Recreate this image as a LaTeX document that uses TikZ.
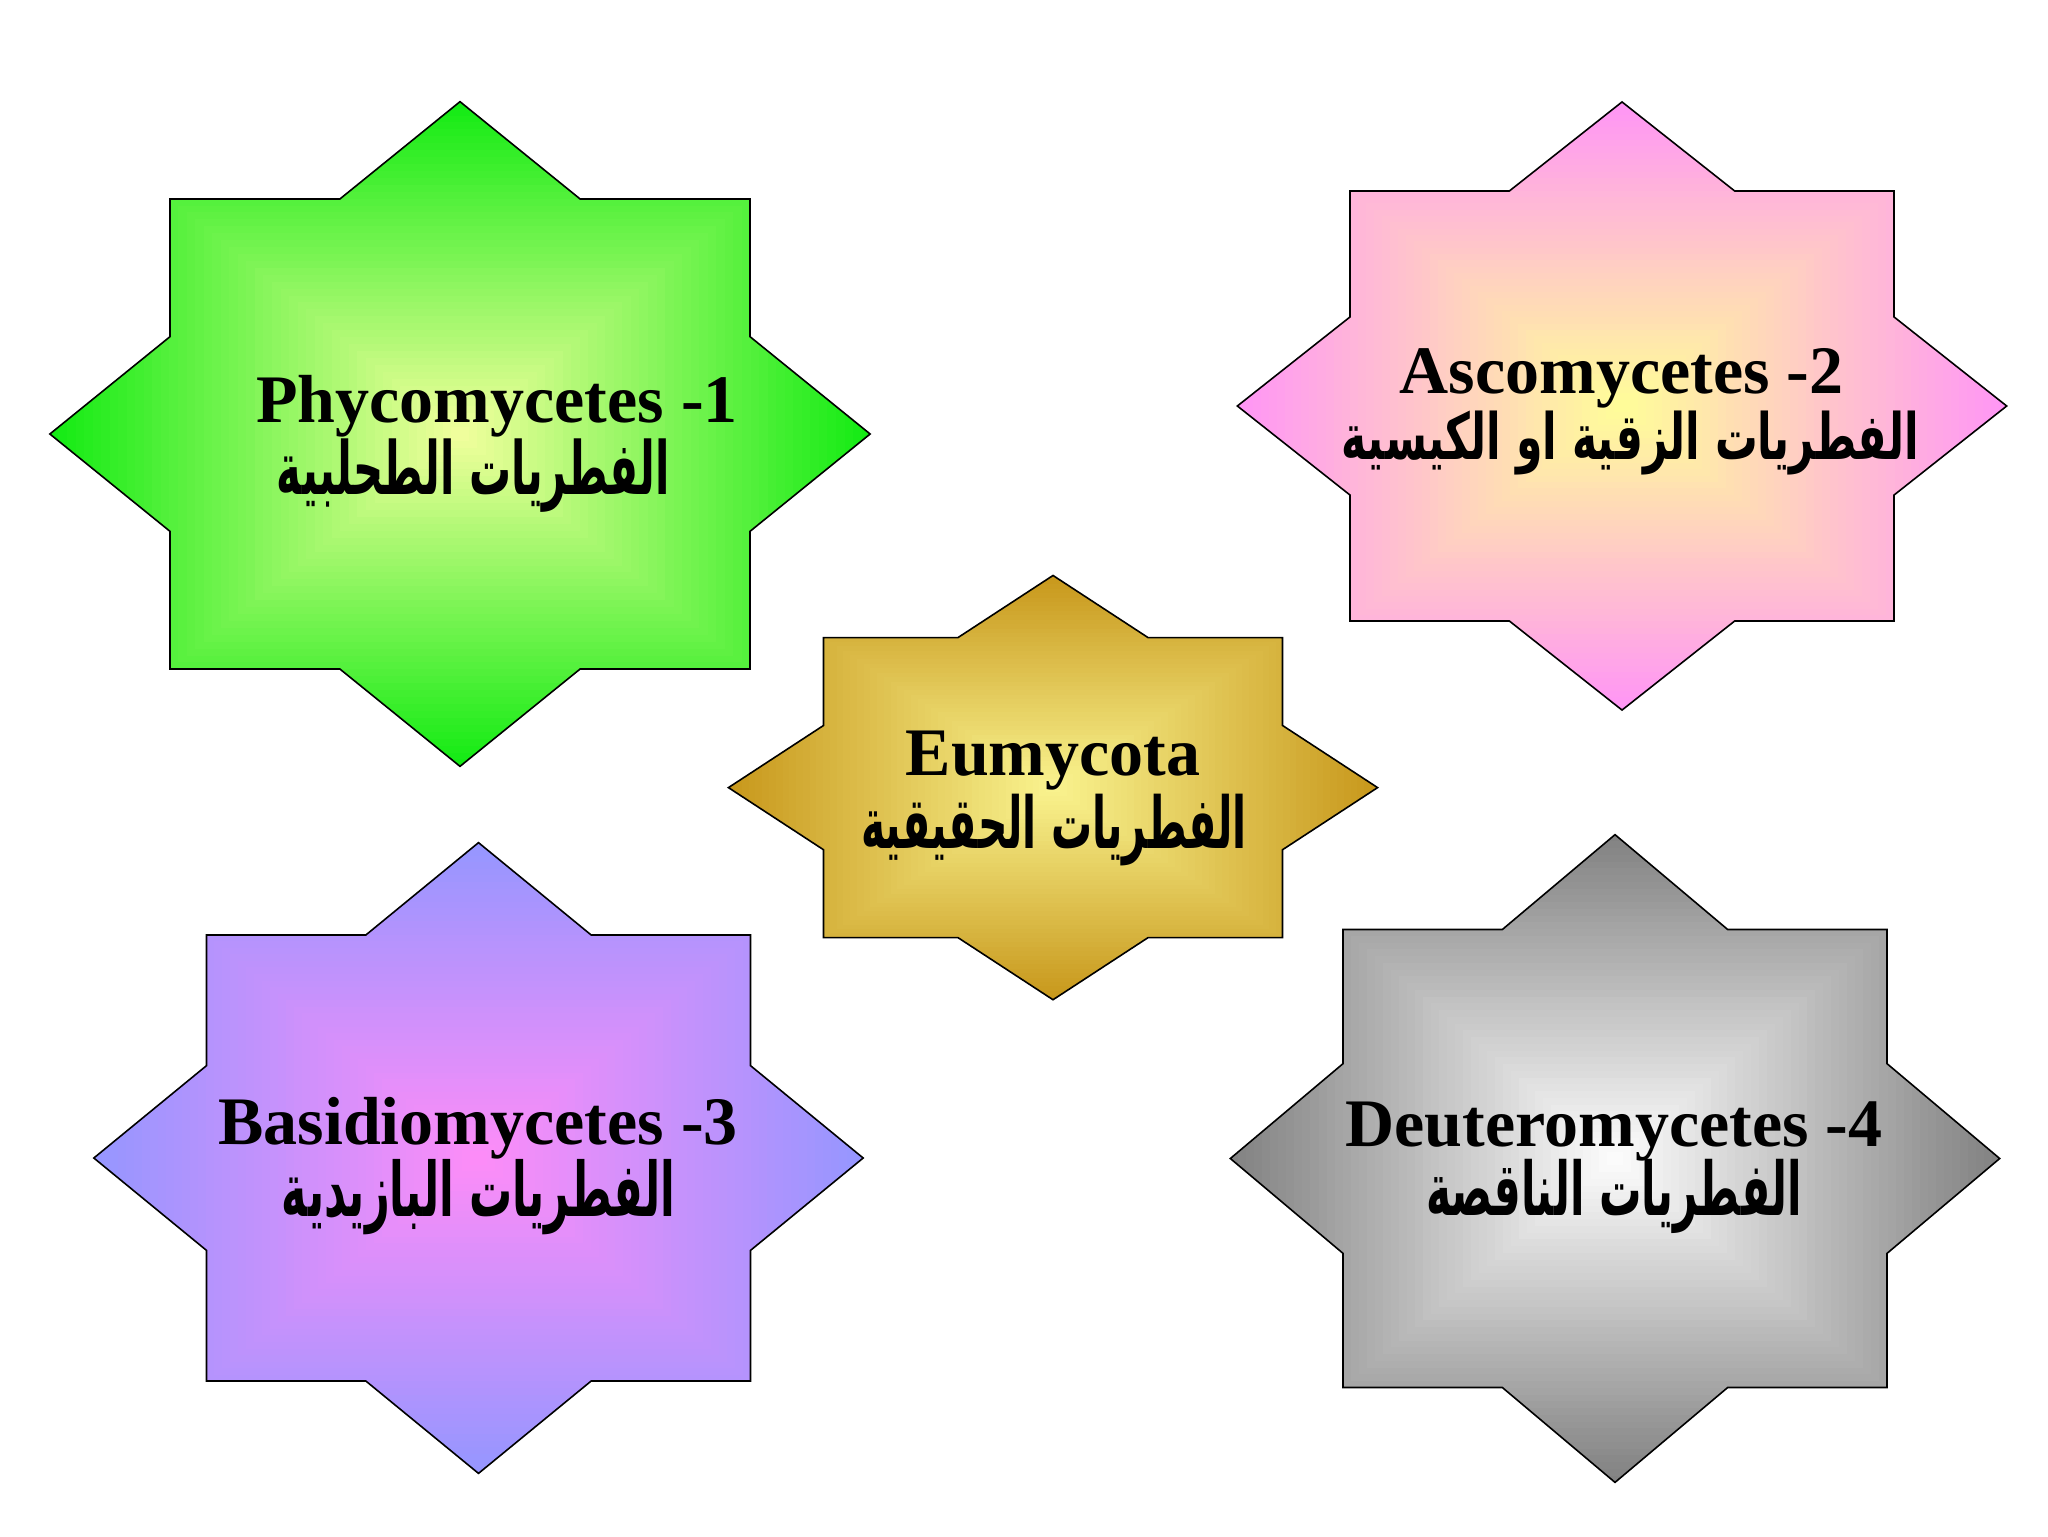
\documentclass[tikz,border=0pt]{standalone}
\usepackage{fontspec}
\setmainfont{Liberation Serif}
\newfontfamily\arabicfont[Script=Arabic]{DejaVu Sans}
\TeXXeTstate=1
\usepackage{graphicx}

\definecolor{grnO}{RGB}{20,235,20}
\definecolor{grnI}{RGB}{246,255,160}
\definecolor{pnkO}{RGB}{255,150,245}
\definecolor{pnkI}{RGB}{255,255,150}
\definecolor{gldO}{RGB}{200,152,28}
\definecolor{gldI}{RGB}{250,245,145}
\definecolor{bluO}{RGB}{150,150,255}
\definecolor{bluI}{RGB}{255,140,248}
\definecolor{gryO}{RGB}{130,130,130}
\definecolor{gryI}{RGB}{255,255,255}

\tikzset{
  octo/.style n args={4}{insert path={
    (#1,#2-1.41421*#4) -- (#1+0.41421*#3,#2-#4) -- (#1+#3,#2-#4) -- (#1+#3,#2-0.41421*#4)
    -- (#1+1.41421*#3,#2) -- (#1+#3,#2+0.41421*#4) -- (#1+#3,#2+#4) -- (#1+0.41421*#3,#2+#4)
    -- (#1,#2+1.41421*#4) -- (#1-0.41421*#3,#2+#4) -- (#1-#3,#2+#4) -- (#1-#3,#2+0.41421*#4)
    -- (#1-1.41421*#3,#2) -- (#1-#3,#2-0.41421*#4) -- (#1-#3,#2-#4) -- (#1-0.41421*#3,#2-#4) -- cycle}},
  outline/.style={draw=black, line width=0.8pt, line join=miter},
  latin/.style={font=\bfseries\fontsize{34}{40}\selectfont, anchor=base, inner sep=0pt},
  arab/.style={inner sep=0pt, anchor=center},
}

\newcommand{\gradstar}[6]{%
  \begin{scope}
    \clip[octo={#1}{#2}{#3}{#4}];
    \foreach \i in {0,...,47}{
      \pgfmathsetmacro\tfac{1-\i/48}
      \pgfmathtruncatemacro\pmix{100*\i/48}
      \fill[#6!\pmix!#5] (#1-1.41421*#3*\tfac, #2-1.41421*#4*\tfac) rectangle (#1+1.41421*#3*\tfac, #2+1.41421*#4*\tfac);
    }
  \end{scope}
  \draw[outline, octo={#1}{#2}{#3}{#4}];
}

% #1 target width (pt), #2 vertical stretch, #3 text
\newcommand{\artext}[3]{\resizebox{#1pt}{!}{\scalebox{1}[#2]{\arabicfont\bfseries #3}}}

\begin{document}
\begin{tikzpicture}[x=0.5pt,y=-0.5pt]
  \fill[white] (0,0) rectangle (2048,1536);
  \useasboundingbox (0,0) rectangle (2048,1536);

  % stars
  \gradstar{460}{434}{290}{235}{grnO}{grnI}
  \gradstar{1622}{406}{272}{215}{pnkO}{pnkI}
  \gradstar{1053}{787.6}{229.5}{150}{gldO}{gldI}
  \gradstar{478.5}{1158}{272}{223}{bluO}{bluI}
  \gradstar{1615}{1158.5}{272}{229}{gryO}{gryI}

  % texts
  \node[latin] (t1) at (497,422) {Phycomycetes -1};
  \node[arab] (a1) at (473.5,476) {\artext{196.5}{1.75}{\beginR الفطريات الطحلبية\endR}};

  \node[latin] (t2) at (1621.5,393) {Ascomycetes -2};
  \node[arab] (a2) at (1630.5,443) {\artext{288.5}{1.5}{\beginR الفطريات الزقية او الكيسية\endR}};

  \node[latin] (tc) at (1053,775) {Eumycota};
  \node[arab] (ac) at (1054,830) {\artext{193}{1.75}{\beginR الفطريات الحقيقية\endR}};

  \node[latin] (t3) at (478,1144) {Basidiomycetes -3};
  \node[arab] (a3) at (478.5,1197) {\artext{196.5}{1.75}{\beginR الفطريات البازيدية\endR}};

  \node[latin] (t4) at (1614,1146) {Deuteromycetes -4};
  \node[arab] (a4) at (1614,1196) {\artext{188}{1.75}{\beginR الفطريات الناقصة\endR}};
\end{tikzpicture}
\end{document}
